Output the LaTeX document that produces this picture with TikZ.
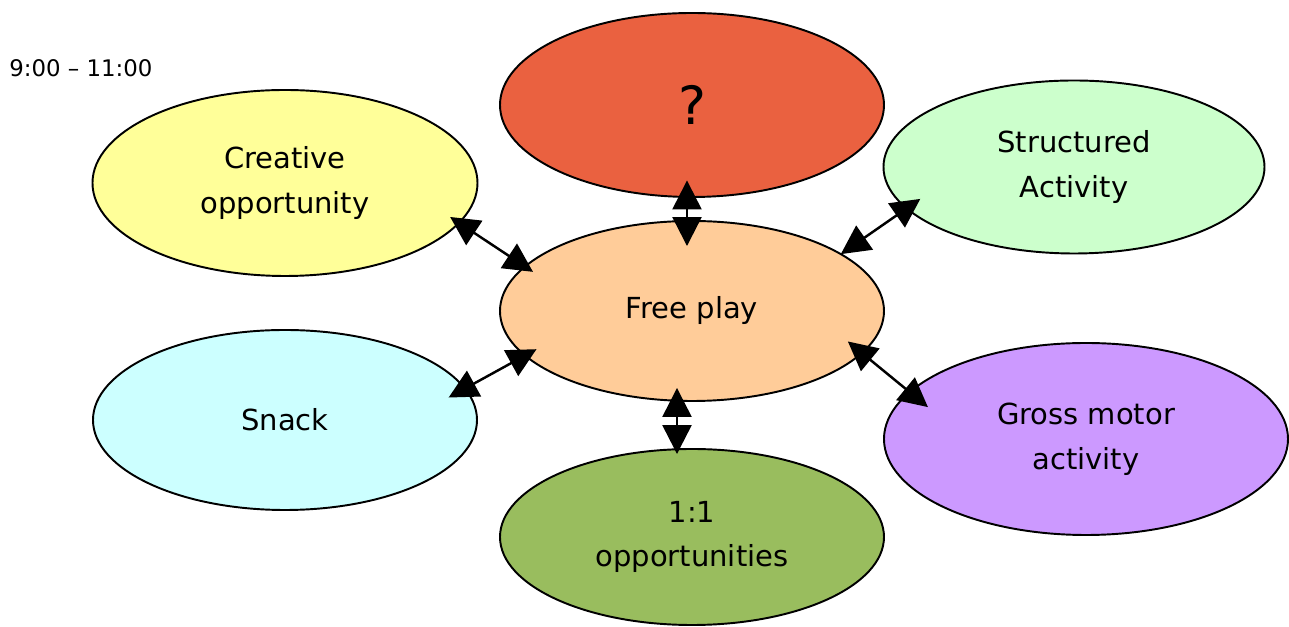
\documentclass[tikz,border=0pt]{standalone}
\usepackage{fontspec}
\setmainfont{DejaVu Sans}
\usetikzlibrary{positioning,shapes.geometric,arrows.meta}

\definecolor{askred}{HTML}{EA6140}
\definecolor{creamyellow}{HTML}{FFFF99}
\definecolor{mintgreen}{HTML}{CCFFCC}
\definecolor{peach}{HTML}{FFCC99}
\definecolor{paleaqua}{HTML}{CCFFFF}
\definecolor{lilac}{HTML}{CC99FF}
\definecolor{olivegreen}{HTML}{99BD5E}

\begin{document}
\begin{tikzpicture}
    [node distance = 2cm, on grid, font=\fontsize{16.5}{25.5}\selectfont,
    % STYLES
    % The bubble style is used for every activity ellipse
    bubble/.style={ellipse, draw, line width=1.1pt, inner sep=0pt, align=center, minimum width=7.68cm, minimum height=3.6cm},
    % The link style is used for the double arrows to free play
    link/.style={{Triangle[length=0.58cm,width=0.58cm]}-{Triangle[length=0.58cm,width=0.58cm]}, line width=1.4pt}]

    \useasboundingbox (-13.84,-6.32) rectangle (11.94,6.22);

    % Centre and activities around it
    \node [bubble, fill=peach] (free) {Free play};
    \node [bubble, fill=askred, minimum height=3.68cm, above=4.12cm of free] (ask) {\fontsize{30}{36}\selectfont ?};
    \node [bubble, fill=creamyellow, minimum width=7.7cm, minimum height=3.72cm, above left=2.56cm and 8.14cm of free] (creative) {Creative\\opportunity};
    \node [bubble, fill=mintgreen, minimum width=7.62cm, minimum height=3.46cm, above right=2.88cm and 7.64cm of free] (structured) {Structured\\Activity};
    \node [bubble, fill=paleaqua, below left=2.18cm and 8.14cm of free] (snack) {Snack};
    \node [bubble, fill=lilac, minimum width=8.08cm, minimum height=3.84cm, below right=2.56cm and 7.88cm of free] (gross) {Gross motor\\activity};
    \node [bubble, fill=olivegreen, minimum height=3.52cm, below=4.52cm of free] (oneone) {1:1\\opportunities};

    % Time of the session
    \node [font=\fontsize{13}{15}\selectfont, above left=4.86cm and 12.22cm of free] (time) {9:00 – 11:00};

    \path[link]
    (creative.-13.6) edge [shorten <=-0.23cm, shorten >=-0.21cm] (free.165.4)
    ([xshift=-0.1cm]ask.south) edge [shorten <=-0.35cm, shorten >=-0.52cm] ([xshift=-0.1cm]free.north)
    (structured.194.2) edge [shorten <=-0.35cm, shorten >=-0.02cm] (free.21)
    (free.195) edge [shorten <=-0.28cm, shorten >=-0.39cm] (snack.10.6)
    ([xshift=-0.3cm]free.south) edge [shorten <=-0.28cm, shorten >=-0.12cm] ([xshift=-0.3cm]oneone.north)
    (free.-14.9) edge [shorten <=-0.38cm, shorten >=-0.49cm] (gross.165.1);
\end{tikzpicture}
\end{document}
